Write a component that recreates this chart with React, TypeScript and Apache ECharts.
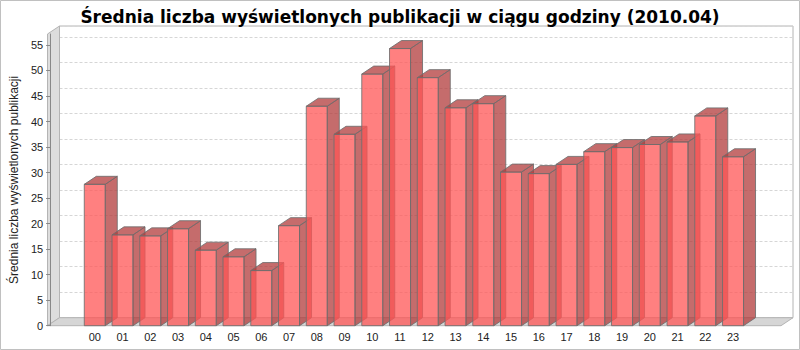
import React, { useEffect, useRef } from "react";
import * as echarts from "echarts";

const categories = ["00","01","02","03","04","05","06","07","08","09","10","11","12","13","14","15","16","17","18","19","20","21","22","23"];
const values = [27.7, 17.8, 17.6, 19.0, 14.8, 13.5, 10.8, 19.6, 43.0, 37.5, 49.3, 54.3, 48.6, 42.7, 43.5, 30.1, 29.8, 31.6, 34.1, 34.9, 35.5, 36.0, 41.1, 33.1];
const yTicks = { min: 0, max: 57.15, interval: 5 };
const titleText = "Średnia liczba wyświetlonych publikacji w ciągu godziny (2010.04)";
const yName = "Średnia liczba wyświetlonych publikacji";

const DX = 12;
const DY = 8;
const FONT = "Liberation Sans";

export default function App() {
  const ref = useRef<HTMLDivElement>(null);
  useEffect(() => {
    if (!ref.current) return;
    const chart = echarts.init(ref.current, null, { renderer: "svg" });
    const front = { left: 47.5, right: 19, top: 34, bottom: 24.3 };
    const back = { left: front.left + DX, right: front.right - DX, top: front.top - DY, bottom: front.bottom + DY };
    const fx0 = front.left, fx1 = 800 - front.right, fy0 = front.top, fy1 = 350 - front.bottom;
    const bx0 = back.left, bx1 = 800 - back.right, by0 = back.top, by1 = 350 - back.bottom;
    const wallStroke = "#b4b4b4";
    const option: any = {
      animation: false,
      backgroundColor: "#ffffff",
      title: {
        text: titleText,
        left: "center",
        top: 3,
        textStyle: { fontFamily: "DejaVu Sans", fontSize: 17, fontWeight: "bold", color: "#000" },
      },
      grid: [
        { left: front.left, right: front.right, top: front.top, bottom: front.bottom },
        { left: 80.9, right: 53.1, top: front.top, bottom: front.bottom },
        { left: back.left, right: back.right, top: back.top, bottom: back.bottom, show: true, backgroundColor: "#ffffff", borderColor: wallStroke, borderWidth: 1 },
      ],
      xAxis: [
        { type: "category", gridIndex: 0, data: categories, show: false },
        {
          type: "category", gridIndex: 1, data: categories,
          axisLine: { show: false }, axisTick: { show: false },
          axisLabel: { margin: 6, fontFamily: FONT, fontSize: 11, color: "#222" },
        },
        { type: "category", gridIndex: 2, data: categories, show: false },
      ],
      yAxis: [
        {
          type: "value", gridIndex: 0, min: yTicks.min, max: yTicks.max, interval: yTicks.interval, z: 5,
          name: yName, nameLocation: "middle", nameRotate: 90, nameGap: 30,
          nameTextStyle: { fontFamily: FONT, fontSize: 12, color: "#222" },
          axisLine: { show: true, lineStyle: { color: "#888888" } },
          axisTick: { show: true, length: 4, lineStyle: { color: "#888888" } },
          axisLabel: { showMaxLabel: false, margin: 7, fontFamily: FONT, fontSize: 11, color: "#222" },
          splitLine: { show: false },
        },
        { type: "value", gridIndex: 1, min: yTicks.min, max: yTicks.max, interval: yTicks.interval, show: false },
        {
          type: "value", gridIndex: 2, min: yTicks.min, max: yTicks.max, interval: yTicks.interval,
          axisLine: { show: false }, axisTick: { show: false }, axisLabel: { show: false },
          splitLine: { show: true, lineStyle: { color: "#d6d6d6", type: [3, 2], width: 1 } },
        },
      ],
      graphic: [
        { type: "rect", shape: { x: 0.5, y: 0.5, width: 799, height: 349 }, style: { fill: "none", stroke: "#c0c0c0", lineWidth: 1 }, z: 10 },
        {
          type: "polygon", z: 1,
          shape: { points: [[fx0, fy0], [bx0, by0], [bx0, by1], [fx0, fy1]] },
          style: { fill: "#dddddd", stroke: wallStroke, lineWidth: 1 },
        },
        {
          type: "polygon", z: 1,
          shape: { points: [[fx0, fy1], [bx0, by1], [bx1, by1], [fx1, fy1]] },
          style: { fill: "#d6d6d6", stroke: wallStroke, lineWidth: 1 },
        },
      ],
      series: [
        {
          type: "custom", xAxisIndex: 1, yAxisIndex: 1, z: 3,
          data: values.map((v, i) => [i, v]),
          renderItem: (params: any, api: any) => {
            const i = api.value(0);
            const v = api.value(1);
            const pt = api.coord([i, v]);
            const p0 = api.coord([i, 0]);
            const bw = api.size([1, 0])[0] * 0.757;
            const xl = pt[0] - bw / 2, xr = pt[0] + bw / 2, yt = pt[1], yb = p0[1];
            const stroke = "rgba(110,110,110,0.85)";
            return {
              type: "group",
              children: [
                { type: "rect", shape: { x: xl, y: yt, width: bw, height: yb - yt }, style: { fill: "rgba(255,85,85,0.75)", stroke, lineWidth: 1 } },
                { type: "polygon", shape: { points: [[xl, yt], [xl + DX, yt - DY], [xr + DX, yt - DY], [xr, yt]] }, style: { fill: "rgba(178,59,59,0.75)", stroke, lineWidth: 1 } },
                { type: "polygon", shape: { points: [[xr, yt], [xr + DX, yt - DY], [xr + DX, yb - DY], [xr, yb]] }, style: { fill: "rgba(178,59,59,0.75)", stroke, lineWidth: 1 } },
              ],
            };
          },
        },
      ],
    };
    chart.setOption(option);
    return () => chart.dispose();
  }, []);
  return <div ref={ref} style={{ position: "fixed", left: 0, top: 0, width: 800, height: 350 }} />;
}
